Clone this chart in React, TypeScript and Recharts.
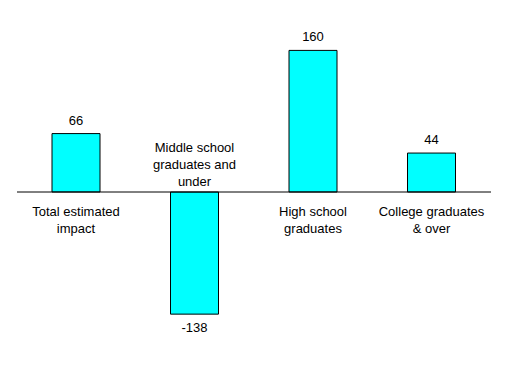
import { BarChart, Bar, XAxis, YAxis, ReferenceLine, LabelList } from "recharts"

const categories = ["Total estimated impact", "Middle school graduates and under", "High school graduates", "College graduates & over"]
const categoryLines = [
  ["Total estimated", "impact"],
  ["Middle school", "graduates and", "under"],
  ["High school", "graduates"],
  ["College graduates", "& over"],
]
const impactValues = [66, -138, 160, 44]

const data = categories.map((name, i) => ({ name, value: impactValues[i] }))

const FONT = "'Liberation Sans', Arial, sans-serif"
const LINE_H = 17

function BarLabels(props: any) {
  const { x, y, width, height, value, index } = props
  const top = Math.min(y, y + height)
  const bottom = Math.max(y, y + height)
  const cx = x + width / 2
  const lines = categoryLines[index] || []
  const positive = value >= 0
  const zeroY = positive ? bottom : top

  return (
    <g fontFamily={FONT} fontSize={13} fill="#000">
      <text x={cx} y={positive ? top - 9 : bottom + 18} textAnchor="middle">
        {value}
      </text>
      {lines.map((line, i) => (
        <text
          key={i}
          x={cx}
          y={positive ? zeroY + 24 + i * LINE_H : zeroY - 6 - (lines.length - 1 - i) * LINE_H}
          textAnchor="middle"
        >
          {line}
        </text>
      ))}
    </g>
  )
}

export default function App() {
  return (
    <div style={{ position: "absolute", left: 0, top: 0, width: 525, height: 383, background: "#fff" }}>
      <BarChart width={525} height={383} data={data} margin={{ top: 15, right: 34, bottom: 14, left: 17 }}>
        <XAxis dataKey="name" hide />
        <YAxis hide domain={[-200, 200]} />
        <Bar dataKey="value" fill="#00FFFF" stroke="#000" strokeWidth={1} barSize={48} isAnimationActive={false}>
          <LabelList dataKey="value" content={<BarLabels />} />
        </Bar>
        <ReferenceLine y={0} stroke="#000" strokeWidth={1} />
      </BarChart>
    </div>
  )
}
